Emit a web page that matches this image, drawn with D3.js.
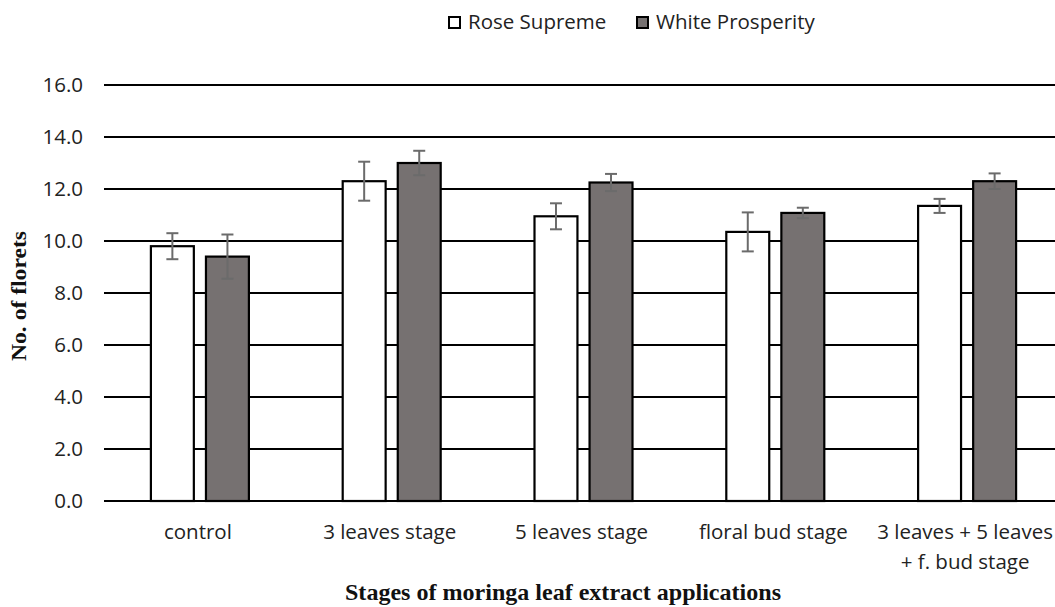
<!DOCTYPE html>
<html><head><meta charset="utf-8">
<script src="https://cdn.jsdelivr.net/npm/d3@7"></script>
<style>body{margin:0;background:#fff;} svg{display:block;}</style>
</head><body>
<svg id="c" width="1055" height="607"></svg>
<script>
const categories = [["control"],["3 leaves stage"],["5 leaves stage"],["floral bud stage"],["3 leaves + 5 leaves","+ f. bud stage"]];
const seriesNames = ["Rose Supreme","White Prosperity"];
const roseValues = [9.8, 12.3, 10.95, 10.35, 11.35];
const roseErrors = [0.5, 0.75, 0.5, 0.75, 0.27];
const whiteValues = [9.4, 13.0, 12.25, 11.08, 12.3];
const whiteErrors = [0.85, 0.47, 0.33, 0.2, 0.3];
const yTicks = [0,2,4,6,8,10,12,14,16];

(function(){
const svg = d3.select("#c");
const pLeft = 104, pRight = 1063, pTop = 85, pBottom = 501;
const x = d3.scaleBand().domain(d3.range(categories.length)).range([pLeft, pRight]).paddingInner(0).paddingOuter(0);
const x1 = d3.scaleBand().domain([0,1]).range([x.bandwidth()/2 - 49, x.bandwidth()/2 + 49]).paddingInner(0.22);
const y = d3.scaleLinear().domain([0,16]).range([pBottom, pTop]);
const fills = ["#ffffff", "#767171"];
const font = "Open Sans, sans-serif";
const fs = 20.5;

svg.append("g").selectAll("line").data(yTicks).join("line")
  .attr("x1", pLeft).attr("x2", 1055).attr("y1", d=>y(d)).attr("y2", d=>y(d))
  .attr("stroke", "#000").attr("stroke-width", 2);

svg.append("g").selectAll("text").data(yTicks).join("text")
  .attr("x", 83).attr("y", d=>y(d)).attr("dy","0.36em").attr("text-anchor","end")
  .attr("font-family",font).attr("font-size",fs).attr("fill","#222")
  .text(d=>d.toFixed(1));

const series = [
  {vals: roseValues, errs: roseErrors},
  {vals: whiteValues, errs: whiteErrors}
];
series.forEach((s, si) => {
  const g = svg.append("g");
  g.selectAll("rect").data(s.vals).join("rect")
    .attr("x", (d,i)=> x(i) + x1(si)).attr("width", x1.bandwidth())
    .attr("y", d=>y(d)).attr("height", d=> y(0)-y(d))
    .attr("fill", fills[si]).attr("stroke","#000").attr("stroke-width",2.2);
  const eg = svg.append("g").attr("stroke","#6b6b6b").attr("stroke-width",2);
  s.vals.forEach((v,i)=>{
    const cx = x(i) + x1(si) + x1.bandwidth()/2;
    const e = s.errs[i];
    eg.append("line").attr("x1",cx).attr("x2",cx).attr("y1",y(v+e)).attr("y2",y(v-e));
    eg.append("line").attr("x1",cx-6).attr("x2",cx+6).attr("y1",y(v+e)).attr("y2",y(v+e));
    eg.append("line").attr("x1",cx-6).attr("x2",cx+6).attr("y1",y(v-e)).attr("y2",y(v-e));
  });
});

const cl = svg.append("g");
categories.forEach((lines,i)=>{
  lines.forEach((t,j)=>{
    cl.append("text").attr("x", x(i)+x.bandwidth()/2 - 2).attr("y", 539 + j*30)
      .attr("text-anchor","middle").attr("font-family",font)
      .attr("font-size",fs).attr("fill","#222").text(t);
  });
});

svg.append("text").attr("x", 563).attr("y", 600).attr("text-anchor","middle")
  .attr("font-family","Liberation Serif, serif").attr("font-weight","bold").attr("font-size",24)
  .attr("fill","#111").attr("textLength",436).attr("lengthAdjust","spacingAndGlyphs")
  .text("Stages of moringa leaf extract applications");
svg.append("text").attr("transform","translate(26,296) rotate(-90)").attr("text-anchor","middle")
  .attr("font-family","Liberation Serif, serif").attr("font-weight","bold").attr("font-size",21)
  .attr("fill","#111").attr("textLength",130).attr("lengthAdjust","spacingAndGlyphs")
  .text("No. of florets");

const legX = [448, 636];
seriesNames.forEach((n,i)=>{
  svg.append("rect").attr("x", legX[i]+1).attr("y", 17).attr("width",11).attr("height",11)
    .attr("fill", fills[i]).attr("stroke","#000").attr("stroke-width",2);
  svg.append("text").attr("x", legX[i]+20).attr("y", 29)
    .attr("font-family",font).attr("font-size",fs).attr("fill","#222").text(n);
});
})();
</script>
</body></html>
